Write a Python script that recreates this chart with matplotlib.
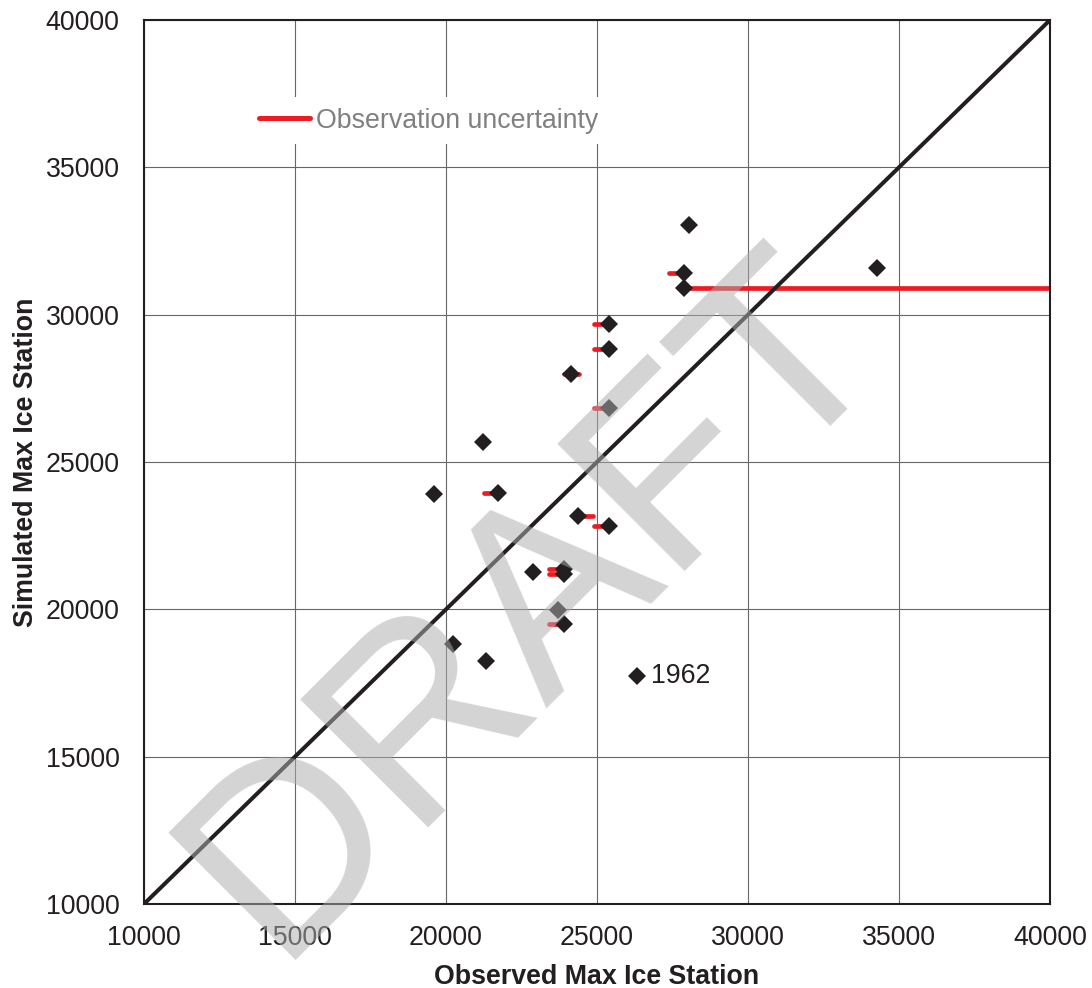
import numpy as np
import matplotlib
matplotlib.use("Agg")
import matplotlib.pyplot as plt
from matplotlib.lines import Line2D

plt.rcParams['font.family'] = ['Liberation Sans', 'DejaVu Sans']

# ---- data ----
observed = [28050, 27880, 27880, 25390, 25390, 24140, 25390, 21240, 19600, 21730,
            24380, 25390, 22890, 23910, 23910, 23700, 23910, 20220, 21320, 26320, 34270]
simulated = [33050, 31420, 30900, 29700, 28830, 27980, 26820, 25690, 23930, 23940,
             23180, 22830, 21260, 21370, 21200, 19980, 19510, 18820, 18260, 17740, 31590]
obs_low = [np.nan, 27400, 27880, 24900, 24900, 23910, 24900, np.nan, np.nan, 21260,
           24380, 24900, np.nan, 23410, 23410, np.nan, 23410, np.nan, np.nan, np.nan, np.nan]
obs_high = [np.nan, 27880, 40000, 25390, 25390, 24390, 25390, np.nan, np.nan, 21730,
            24880, 25390, np.nan, 23910, 23910, np.nan, 23910, np.nan, np.nan, np.nan, np.nan]
label_point = (26320, 17740)
label_text = "1962"
ticks = [10000, 15000, 20000, 25000, 30000, 35000, 40000]
tick_labels = [str(t) for t in ticks]

DARK = '#231f20'
RED = '#ed1c24'
FS = 19.3

W, H = 1092, 988
fig = plt.figure(figsize=(W / 100, H / 100), dpi=100)
ax = fig.add_axes([144 / W, 1 - 904 / H, 906 / W, 884 / H])

# grid
ax.set_axisbelow(True)
ax.grid(True, color='#666666', lw=0.8)

# uncertainty bars
for lo, hi, y in zip(obs_low, obs_high, simulated):
    if not np.isnan(lo):
        ax.plot([lo, hi], [y, y], color=RED, lw=3.4, solid_capstyle='round', zorder=2)

# 1:1 line
ax.plot([ticks[0], ticks[-1]], [ticks[0], ticks[-1]], color=DARK, lw=2.9, zorder=3)

# points
ax.plot(observed, simulated, linestyle='none', marker='D', ms=9.0, mew=0,
        color=DARK, zorder=4)

ax.annotate(label_text, xy=label_point, xytext=(10, 0), textcoords='offset points',
            va='center', ha='left', fontsize=FS, color=DARK)

ax.set_xlim(ticks[0], ticks[-1])
ax.set_ylim(ticks[0], ticks[-1])
ax.set_xticks(ticks)
ax.set_yticks(ticks)
ax.set_xticklabels(tick_labels)
ax.set_yticklabels(tick_labels)
ax.tick_params(axis='both', length=0, labelsize=FS, labelcolor=DARK)
ax.tick_params(axis='x', pad=15)
ax.tick_params(axis='y', pad=17.5)
for s in ax.spines.values():
    s.set_color(DARK)
    s.set_linewidth(1.5)

ax.set_xlabel('Observed Max Ice Station', fontsize=FS, fontweight='bold', color=DARK)
ax.set_ylabel('Simulated Max Ice Station', fontsize=FS, fontweight='bold', color=DARK)
ax.xaxis.label.set_va('baseline')
ax.yaxis.label.set_va('baseline')
ax.xaxis.set_label_coords(0.5, (904 - 984) / 884)
ax.yaxis.set_label_coords((33 - 144) / 906, 0.5)

# legend
h = Line2D([], [], color=RED, lw=3.6, solid_capstyle='round')
leg = ax.legend([h], ['Observation uncertainty'], loc='upper left',
                bbox_to_anchor=((248 - 144) / 906, (904 - 97) / 884),
                borderaxespad=0, frameon=True, fancybox=False, edgecolor='none',
                facecolor='white', framealpha=1, handlelength=1.9,
                handletextpad=0.23, borderpad=0.4, fontsize=FS)
for t in leg.get_texts():
    t.set_color('#808080')

# watermark
fig.text(582 / W, 1 - 652 / H, 'DRAFT', fontsize=188, rotation=45,
         rotation_mode='anchor', ha='center', va='baseline',
         color='#adadad', alpha=0.52, zorder=10)

fig.savefig('out.png', dpi=100)
